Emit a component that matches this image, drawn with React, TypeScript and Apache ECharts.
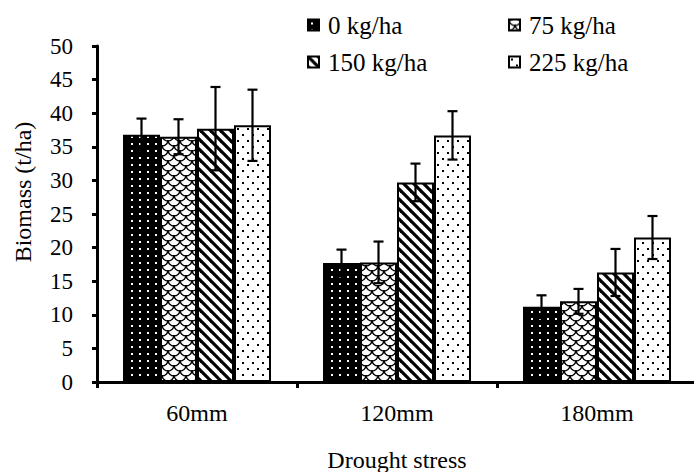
import React, { useEffect, useRef } from "react";
import * as echarts from "echarts";

const categories = ["60mm", "120mm", "180mm"];
const seriesNames = ["0 kg/ha", "75 kg/ha", "150 kg/ha", "225 kg/ha"];
const values0 = [36.8, 17.7, 11.2];
const values75 = [36.5, 17.8, 12.0];
const values150 = [37.7, 29.7, 16.3];
const values225 = [38.2, 36.7, 21.5];
const err0 = [2.4, 2.0, 1.7];
const err75 = [2.6, 3.1, 1.85];
const err150 = [6.2, 2.8, 3.5];
const err225 = [5.3, 3.6, 3.2];
const yTicksMax = 50;
const yTickStep = 5;

const FONT = "Liberation Serif";

function makeCanvas(w: number, h: number, draw: (ctx: CanvasRenderingContext2D) => void) {
  const c = document.createElement("canvas");
  c.width = w;
  c.height = h;
  const ctx = c.getContext("2d")!;
  draw(ctx);
  return c;
}

function makePatterns() {
  const p0 = makeCanvas(8, 7, (ctx) => {
    ctx.fillStyle = "#000";
    ctx.fillRect(0, 0, 8, 7);
    ctx.fillStyle = "#fff";
    ctx.fillRect(3, 3, 2, 2);
  });
  const p75 = makeCanvas(12, 10, (ctx) => {
    ctx.fillStyle = "#fff";
    ctx.fillRect(0, 0, 12, 10);
    ctx.strokeStyle = "#000";
    ctx.lineWidth = 1.3;
    const arcs = [
      [6, 0],
      [0, 5],
      [12, 5],
      [6, 10],
      [0, -5],
      [12, -5],
    ];
    for (const [cx, cy] of arcs) {
      ctx.beginPath();
      ctx.arc(cx, cy, 6, 0, Math.PI);
      ctx.stroke();
    }
  });
  const p150 = makeCanvas(10, 10, (ctx) => {
    ctx.fillStyle = "#fff";
    ctx.fillRect(0, 0, 10, 10);
    ctx.strokeStyle = "#000";
    ctx.lineWidth = 3.2;
    for (const x of [-10, 0, 10]) {
      ctx.beginPath();
      ctx.moveTo(x - 2, -2);
      ctx.lineTo(x + 12, 12);
      ctx.stroke();
    }
  });
  const p225 = makeCanvas(10, 12, (ctx) => {
    ctx.fillStyle = "#fff";
    ctx.fillRect(0, 0, 10, 12);
    ctx.fillStyle = "#000";
    ctx.fillRect(2, 2, 2, 2);
    ctx.fillRect(7, 8, 2, 2);
  });
  return [p0, p75, p150, p225].map((img) => ({
    image: img,
    repeat: "repeat",
  }));
}

export default function App() {
  const ref = useRef<HTMLDivElement>(null);
  useEffect(() => {
    if (!ref.current) return;
    const chart = echarts.init(ref.current, null, { renderer: "svg" });
    const patterns = makePatterns();
    const values = [values0, values75, values150, values225];
    const errs = [err0, err75, err150, err225];
    const gapPct = 26;

    const barSeries = values.map((vals, k) => ({
      type: "bar",
      name: seriesNames[k],
      data: vals,
      barGap: "0%",
      barCategoryGap: gapPct + "%",
      itemStyle: { color: patterns[k] as any, borderColor: "#000", borderWidth: 2 },
      z: 2,
    }));

    const errSeries = values.map((vals, k) => ({
      type: "custom",
      name: "err" + k,
      z: 5,
      data: categories.map((c, i) => [i, vals[i], errs[k][i]]),
      renderItem: (params: any, api: any) => {
        const ci = api.value(0);
        const v = api.value(1);
        const e = api.value(2);
        const bandW = api.size([1, 0])[0];
        const barW = (bandW * (1 - gapPct / 100)) / 4;
        const off = (k - 1.5) * barW;
        const top = api.coord([ci, v + e]);
        const bot = api.coord([ci, v - e]);
        const x = top[0] + off;
        const st = { stroke: "#000", lineWidth: 2.2 };
        return {
          type: "group",
          children: [
            { type: "line", shape: { x1: x, y1: top[1], x2: x, y2: bot[1] }, style: st },
            { type: "line", shape: { x1: x - 5, y1: top[1], x2: x + 5, y2: top[1] }, style: st },
            { type: "line", shape: { x1: x - 5, y1: bot[1], x2: x + 5, y2: bot[1] }, style: st },
          ],
        };
      },
    }));

    const legendCommon = {
      orient: "vertical",
      top: 7,
      itemWidth: 11,
      itemHeight: 11,
      itemGap: 11,
      icon: "rect",
      textStyle: {
        fontFamily: FONT,
        fontSize: 25,
        lineHeight: 26,
        color: "#000",
        padding: [0, 0, 0, 4],
      },
    };

    chart.setOption({
      animation: false,
      backgroundColor: "#fff",
      legend: [
        { ...legendCommon, left: 302, data: [seriesNames[0], seriesNames[2]] },
        { ...legendCommon, left: 503, data: [seriesNames[1], seriesNames[3]] },
      ],
      grid: {
        left: 97,
        top: 46,
        bottom: 90,
        right: -3,
        containLabel: false,
        outerBoundsMode: "none",
      },
      xAxis: {
        type: "category",
        data: categories,
        axisLine: { lineStyle: { color: "#000", width: 3 } },
        axisTick: { show: true, length: 6, lineStyle: { color: "#000", width: 3 } },
        axisLabel: { fontFamily: FONT, fontSize: 24, color: "#000", margin: 19 },
        name: "Drought stress",
        nameLocation: "middle",
        nameGap: 66,
        nameTextStyle: { fontFamily: FONT, fontSize: 24, color: "#000" },
      },
      yAxis: {
        type: "value",
        min: 0,
        max: yTicksMax,
        interval: yTickStep,
        splitLine: { show: false },
        axisLine: { show: true, lineStyle: { color: "#000", width: 3 } },
        axisTick: { show: true, length: 5, lineStyle: { color: "#000", width: 3 } },
        axisLabel: { fontFamily: FONT, fontSize: 23, color: "#000", margin: 24 },
      },
      graphic: [
        {
          type: "text",
          x: 23,
          y: 192,
          rotation: Math.PI / 2,
          style: {
            text: "Biomass (t/ha)",
            fontFamily: FONT,
            fontSize: 24,
            fill: "#000",
            textAlign: "center",
            textVerticalAlign: "middle",
          },
        },
      ],
      series: [...barSeries, ...errSeries],
    } as any);
    return () => chart.dispose();
  }, []);
  return (
    <div
      ref={ref}
      style={{ position: "absolute", left: 0, top: 0, width: 694, height: 472 }}
    />
  );
}
